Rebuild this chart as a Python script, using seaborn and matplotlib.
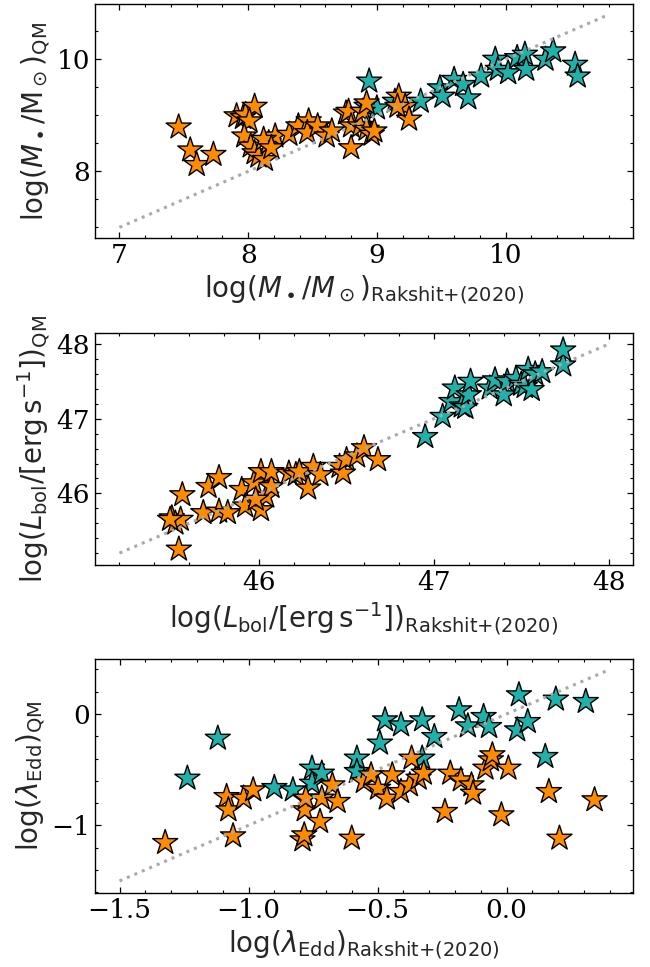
import numpy as np
import pandas as pd
import matplotlib
matplotlib.use("Agg")
import matplotlib.pyplot as plt
import seaborn as sns
from matplotlib.ticker import AutoMinorLocator, MultipleLocator

# ---------------- data ----------------
# Panel 1: black hole mass
p1_orange_x = [7.46, 7.55, 7.60, 7.73, 7.91, 7.96, 7.98, 8.05, 8.01, 7.97, 8.02, 8.05, 8.08, 8.13,
               8.16, 8.21, 8.12, 8.18, 8.32, 8.39, 8.47, 8.46, 8.54, 8.61, 8.65, 8.76, 8.78, 8.80,
               8.80, 8.87, 8.89, 8.92, 8.92, 8.96, 8.98, 9.17, 9.22, 9.25, 9.16]
p1_orange_y = [8.79, 8.38, 8.12, 8.30, 8.99, 8.96, 9.01, 9.16, 8.90, 8.63, 8.45, 8.33, 8.27, 8.21,
               8.51, 8.63, 8.57, 8.42, 8.66, 8.81, 8.90, 8.69, 8.81, 8.63, 8.72, 9.04, 9.07, 8.81,
               8.42, 8.81, 9.07, 9.22, 8.75, 8.66, 8.72, 9.34, 9.16, 8.93, 9.16]
p1_teal_x = [8.94, 8.92, 9.00, 9.14, 9.34, 9.49, 9.51, 9.60, 9.67, 9.71, 9.81, 9.92, 9.94, 10.02,
             10.09, 10.15, 10.16, 10.31, 10.37, 10.54, 10.56]
p1_teal_y = [9.61, 9.16, 9.13, 9.25, 9.25, 9.49, 9.34, 9.64, 9.55, 9.31, 9.70, 10.00, 9.82, 9.76,
             10.03, 10.09, 9.82, 10.00, 10.15, 9.91, 9.70]
p1_line = [7.0, 10.8]

# Panel 2: bolometric luminosity
p2_orange_x = [45.54, 45.56, 45.50, 45.52, 45.55, 45.49, 45.68, 45.71, 45.77, 45.77, 45.82, 45.90,
               45.92, 45.97, 46.01, 46.01, 46.04, 46.07, 46.07, 45.98, 46.17, 46.21, 46.23, 46.28,
               46.31, 46.35, 46.46, 46.48, 46.50, 46.56, 46.60, 46.68]
p2_orange_y = [45.25, 45.98, 45.67, 45.60, 45.65, 45.65, 45.74, 46.09, 46.21, 45.76, 45.74, 46.05,
               45.83, 46.14, 46.29, 45.78, 45.96, 46.09, 46.29, 45.92, 46.27, 46.25, 46.29, 46.07,
               46.36, 46.25, 46.36, 46.27, 46.45, 46.50, 46.61, 46.45]
p2_teal_x = [46.95, 47.05, 47.10, 47.12, 47.16, 47.18, 47.20, 47.21, 47.32, 47.35, 47.40, 47.42,
             47.47, 47.50, 47.52, 47.54, 47.56, 47.58, 47.62, 47.74, 47.74]
p2_teal_y = [46.76, 47.03, 47.23, 47.41, 47.17, 47.15, 47.32, 47.50, 47.41, 47.52, 47.32, 47.50,
             47.54, 47.46, 47.43, 47.66, 47.39, 47.60, 47.63, 47.72, 47.92]
p2_line = [45.2, 48.0]

# Panel 3: Eddington ratio
p3_orange_x = [-1.323, -1.085, -1.078, -1.060, -1.019, -0.982, -0.791, -0.784, -0.782, -0.778,
               -0.723, -0.716, -0.675, -0.655, -0.600, -0.553, -0.525, -0.498, -0.464, -0.443,
               -0.409, -0.375, -0.368, -0.341, -0.321, -0.239, -0.218, -0.177, -0.136, -0.130,
               -0.082, -0.061, -0.055, -0.020, 0.007, 0.164, 0.205, 0.341]
p3_orange_y = [-1.156, -0.743, -0.862, -1.096, -0.757, -0.683, -1.132, -1.087, -0.862, -0.757,
               -0.967, -0.757, -0.638, -0.787, -1.117, -0.608, -0.548, -0.668, -0.757, -0.548,
               -0.698, -0.638, -0.398, -0.578, -0.533, -0.877, -0.533, -0.593, -0.638, -0.713,
               -0.488, -0.413, -0.368, -0.907, -0.488, -0.698, -1.117, -0.772]
p3_teal_x = [-1.237, -1.119, -0.900, -0.828, -0.754, -0.754, -0.716, -0.580, -0.580, -0.491,
             -0.471, -0.409, -0.327, -0.327, -0.280, -0.184, -0.150, -0.089, -0.068, 0.041,
             0.048, 0.082, 0.150, 0.191, 0.307]
p3_teal_y = [-0.578, -0.219, -0.662, -0.683, -0.488, -0.623, -0.533, -0.398, -0.518, -0.263,
             -0.054, -0.099, -0.054, -0.398, -0.204, 0.036, -0.108, -0.024, -0.114, -0.144,
             0.171, -0.069, -0.383, 0.132, 0.111]
p3_line = [-1.5, 0.39]

groups = ["high", "low"]
palette = {"high": "#20B2AA", "low": "#FF8C00"}

ref = r"{\rm Rakshit}{+}{\rm (2020)}"
xlabels = [r"$\log(M_\bullet/M_\odot)_{" + ref + "}$",
           r"$\log(L_{\rm bol}/[{\rm erg\,s^{-1}}])_{" + ref + "}$",
           r"$\log(\lambda_{\rm Edd})_{" + ref + "}$"]
ylabels = [r"$\log(M_\bullet/{\rm M}_\odot)_{\rm QM}$",
           r"$\log(L_{\rm bol}/[{\rm erg\,s^{-1}}])_{\rm QM}$",
           r"$\log(\lambda_{\rm Edd})_{\rm QM}$"]

panels = [
    (p1_teal_x, p1_teal_y, p1_orange_x, p1_orange_y, p1_line, (6.81, 10.99), (6.81, 10.99), 1, 2),
    (p2_teal_x, p2_teal_y, p2_orange_x, p2_orange_y, p2_line, (45.06, 48.14), (45.04, 48.15), 1, 1),
    (p3_teal_x, p3_teal_y, p3_orange_x, p3_orange_y, p3_line, (-1.595, 0.49), (-1.608, 0.494), 0.5, 1),
]

sns.set_theme(style="ticks")
plt.rcParams["font.family"] = ["DejaVu Serif"]
plt.rcParams["mathtext.fontset"] = "dejavusans"

fig = plt.figure(figsize=(6.5, 9.67), dpi=100)
W, H = 650.0, 967.0
left, right = 95, 633
tops = [4, 333, 659]
bottoms = [238, 565, 893]

for i, (tx, ty, ox, oy, line, xl, yl, xmaj, ymaj) in enumerate(panels):
    ax = fig.add_axes([left / W, 1 - bottoms[i] / H, (right - left) / W, (bottoms[i] - tops[i]) / H])
    df = pd.DataFrame({
        "x": list(tx) + list(ox),
        "y": list(ty) + list(oy),
        "g": [groups[0]] * len(tx) + [groups[1]] * len(ox),
    })
    sns.scatterplot(data=df, x="x", y="y", hue="g", palette=palette, marker="*", s=360,
                    edgecolor="black", linewidth=1.0, legend=False, ax=ax, zorder=2)
    sns.lineplot(x=line, y=line, ax=ax, color="#a9a9a9", linestyle=":", linewidth=2.2, zorder=3)
    ax.set_xlim(*xl)
    ax.set_ylim(*yl)
    ax.xaxis.set_major_locator(MultipleLocator(xmaj))
    ax.yaxis.set_major_locator(MultipleLocator(ymaj))
    ax.xaxis.set_minor_locator(AutoMinorLocator())
    ax.yaxis.set_minor_locator(AutoMinorLocator())
    ax.tick_params(which="both", direction="in", top=True, right=True, labelsize=19, colors="black")
    ax.tick_params(which="major", length=4, width=0.9)
    ax.tick_params(which="minor", length=2.5, width=0.8)
    for sp in ax.spines.values():
        sp.set_color("black")
        sp.set_linewidth(1.0)
    ax.set_xlabel(xlabels[i], fontsize=20, labelpad=4)
    ax.set_ylabel(ylabels[i], fontsize=20, labelpad=3)

fig.savefig("out.png", dpi=100)
